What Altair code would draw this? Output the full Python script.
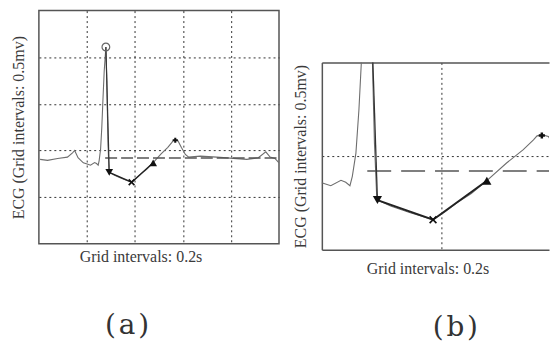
import altair as alt
import pandas as pd

# ---- data (time in s, ECG in mV) ----
ecg_t = [0.005, 0.036, 0.078, 0.119, 0.140, 0.149, 0.163, 0.185, 0.201, 0.215,
         0.232, 0.240, 0.247, 0.251, 0.257, 0.262, 0.266, 0.272, 0.279, 0.283,
         0.285, 0.288, 0.292, 0.315, 0.348, 0.386, 0.405, 0.426, 0.450, 0.476,
         0.509, 0.537, 0.554, 0.560, 0.569, 0.579, 0.593, 0.610, 0.624, 0.672,
         0.741, 0.810, 0.866, 0.914, 0.945, 0.963, 0.983, 1.000]
ecg_v = [0.905, 0.894, 0.915, 0.929, 0.975, 1.000, 0.922, 0.868, 0.856, 0.842,
         0.871, 0.860, 0.842, 0.892, 1.016, 1.246, 1.495, 1.850, 2.110, 1.750,
         1.450, 1.069, 0.768, 0.734, 0.697, 0.660, 0.700, 0.750, 0.800, 0.869,
         0.963, 1.034, 1.087, 1.108, 1.113, 1.105, 1.034, 0.958, 0.929, 0.940,
         0.929, 0.915, 0.905, 0.922, 0.986, 0.929, 0.915, 0.868]

feat_name = ["R", "S", "Xmin", "Up", "T"]
feat_t = [0.279, 0.293, 0.386, 0.476, 0.568]
feat_v = [2.110, 0.765, 0.660, 0.868, 1.110]
drop_names = ["R", "S"]
st_names = ["S", "Xmin", "Up"]

ref_level = 0.92
ref_t0 = 0.276
ref_t1 = 0.995

x_grid_a = [0.2, 0.4, 0.6, 0.8]
y_grid_a = [0.5, 1.0, 1.5, 2.0]
x_grid_b = [0.4]
y_grid_b = [1.0]

x_title = "Grid intervals: 0.2s"
y_title = "ECG (Grid intervals: 0.5mv)"
label_a = "(\u200aa\u200a)"
label_b = "(\u200ab\u200a)"

ecg = pd.DataFrame({"t": ecg_t, "v": ecg_v})
feat = pd.DataFrame({"name": feat_name, "t": feat_t, "v": feat_v,
                     "order": list(range(len(feat_name)))})
ref = pd.DataFrame({"t0": [ref_t0], "t1": [ref_t1], "v": [ref_level]})

SERIF = "Liberation Serif"
TXT = "#3a3a3a"
FRAME = "#555555"
X_PATH = "M-1,-1L1,1M-1,1L1,-1"


def panel(xdom, ydom, w, h, xgrid, ygrid, xtitle_x, xpad, ypad,
          msize, drop_w, st_w, dash, frame_axes):
    xs = alt.Scale(domain=xdom, nice=False, zero=False)
    ys = alt.Scale(domain=ydom, nice=False, zero=False)
    common = dict(labels=False, ticks=False, grid=True, gridDash=[2, 3],
                  gridColor="#333333", gridWidth=1,
                  domain=frame_axes, domainColor=FRAME, domainWidth=1.5,
                  titleFont=SERIF, titleFontSize=16, titleFontWeight="normal",
                  titleColor=TXT)
    xaxis = alt.Axis(values=xgrid, title=x_title, titlePadding=xpad,
                     titleX=xtitle_x, **common)
    yaxis = alt.Axis(values=ygrid, title=y_title, titlePadding=ypad, **common)

    raw = alt.Chart(ecg).mark_line(color="#6e6e6e", strokeWidth=1.1, clip=True).encode(
        x=alt.X("t:Q", scale=xs, axis=xaxis),
        y=alt.Y("v:Q", scale=ys, axis=yaxis),
        order="t:Q")

    refl = alt.Chart(ref).mark_rule(color="#555555", strokeWidth=1.4,
                                    strokeDash=dash, clip=True).encode(
        x=alt.X("t0:Q", scale=xs, axis=None), x2="t1:Q",
        y=alt.Y("v:Q", scale=ys, axis=None))

    def path(names, width, color):
        return alt.Chart(feat).transform_filter(
            alt.FieldOneOfPredicate(field="name", oneOf=names)
        ).mark_line(color=color, strokeWidth=width, clip=True).encode(
            x=alt.X("t:Q", scale=xs, axis=None),
            y=alt.Y("v:Q", scale=ys, axis=None),
            order="order:Q")

    def marker(name, shape, filled, size, color, sw=1.2):
        return alt.Chart(feat).transform_filter(alt.datum.name == name).mark_point(
            shape=shape, filled=filled, size=size, color=color, opacity=1,
            strokeWidth=sw, clip=True).encode(
            x=alt.X("t:Q", scale=xs, axis=None),
            y=alt.Y("v:Q", scale=ys, axis=None))

    layers = [raw, refl,
              path(drop_names, drop_w, "#333333"),
              path(st_names, st_w, "#222222"),
              marker("R", "circle", False, msize, "#666666"),
              marker("S", "triangle-down", True, msize, "#111111"),
              marker("Xmin", X_PATH, False, msize * 0.55, "#111111", 1.6),
              marker("Up", "triangle-up", True, msize, "#111111"),
              marker("T", "cross", True, msize * 0.45, "#111111")]
    if frame_axes:
        top = alt.Chart(ref).mark_point(opacity=0).encode(
            x=alt.X("t0:Q", scale=xs,
                    axis=alt.Axis(orient="top", labels=False, ticks=False,
                                  grid=False, domain=True, domainColor=FRAME,
                                  domainWidth=1.5, title=None)),
            y=alt.Y("v:Q", scale=ys, axis=None))
        layers.append(top)
    ch = alt.layer(*layers).properties(width=w, height=h).resolve_axis(
        x="independent", y="independent")
    return ch


def label(text, offset, dx):
    return alt.TitleParams(text, orient="bottom", font="DejaVu Serif",
                           fontSize=28, fontWeight="normal", color="#333333",
                           offset=offset, dx=dx, anchor="middle", frame="group")


A = panel([0, 1.0], [0, 2.5], 241, 234, x_grid_a, y_grid_a, 102, 5, 12,
          60, 1.2, 1.3, [12, 4], False).properties(
    view=alt.ViewBackground(stroke=FRAME, strokeWidth=1.5),
    title=label(label_a, 48, -32))

B = panel([0.2, 0.58], [0.5, 1.5], 228, 188, x_grid_b, y_grid_b, 106, 11, 13,
          85, 1.3, 2.0, [24, 10], True).properties(
    title=label(label_b, 38, 20))

spacer = alt.Chart(ref).mark_point(opacity=0, size=1).encode(
    x=alt.value(5), y=alt.value(25)
).properties(width=228, height=50)

chart = alt.hconcat(A, alt.vconcat(spacer, B, spacing=0), spacing=12).properties(
    padding={"left": 2, "top": 1, "right": 0, "bottom": 0},
    background="white"
).configure_view(stroke="transparent")

chart.save("out.html", embed_options={"renderer": "svg", "actions": False})
